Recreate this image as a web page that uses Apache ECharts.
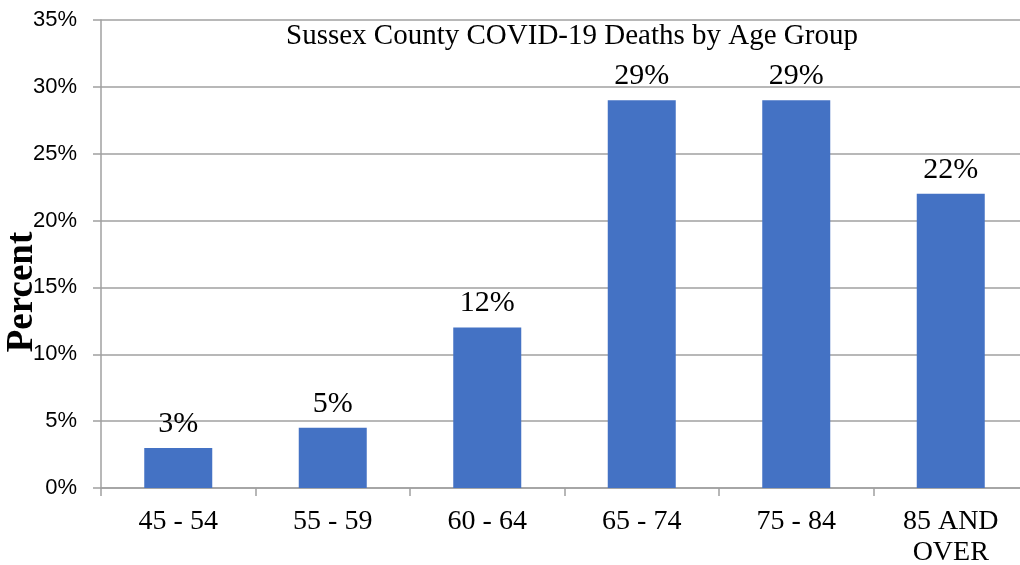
<!DOCTYPE html>
<html>
<head>
<meta charset="utf-8">
<script src="https://cdn.jsdelivr.net/npm/echarts@6/dist/echarts.min.js"></script>
<style>
  html, body { margin: 0; padding: 0; background: #fff; }
  #chart { width: 1020px; height: 565px; }
</style>
</head>
<body>
<div id="chart"></div>
<script>
// age groups and share of deaths (%)
const categories = ['45 - 54', '55 - 59', '60 - 64', '65 - 74', '75 - 84', '85 AND\nOVER']
const deaths = [3, 4.5, 12, 29, 29, 22]
const yTicks = [0, 5, 10, 15, 20, 25, 30, 35]

const chart = echarts.init(document.getElementById('chart'))
const option = {
  animation: false,
  title: {
    text: 'Sussex County COVID-19 Deaths by Age Group',
    left: 567,
    textAlign: 'center',
    top: 17,
    textStyle: {
      fontFamily: 'Liberation Serif',
      fontSize: 29,
      fontWeight: 'normal',
      color: '#000'
    }
  },
  // y axis title, placed by hand (axis name gets pushed off the canvas)
  graphic: [
    {
      type: 'text',
      x: 22,
      y: 292,
      rotation: Math.PI / 2,
      style: {
        text: 'Percent',
        fontFamily: 'Liberation Serif',
        fontSize: 37,
        fontWeight: 'bold',
        fill: '#000',
        align: 'center',
        verticalAlign: 'middle'
      }
    }
  ],
  grid: {
    left: 101,
    right: -8,
    top: 20,
    bottom: 77,
    outerBoundsMode: 'none',
    containLabel: false
  },
  xAxis: {
    type: 'category',
    data: categories,
    axisLine: { lineStyle: { color: '#a0a0a0', width: 1.5 } },
    axisTick: { show: true, length: 8, lineStyle: { color: '#a0a0a0', width: 1.5 } },
    axisLabel: {
      margin: 18,
      fontFamily: 'Liberation Serif',
      fontSize: 28,
      color: '#000',
      lineHeight: 31
    }
  },
  yAxis: {
    type: 'value',
    min: yTicks[0],
    max: yTicks[yTicks.length - 1],
    interval: 5,
    axisLine: { show: true, lineStyle: { color: '#a0a0a0', width: 1.5 } },
    axisTick: { show: true, length: 8, lineStyle: { color: '#a0a0a0', width: 1.5 } },
    splitLine: { show: true, lineStyle: { color: '#a0a0a0', width: 1.5 } },
    axisLabel: {
      margin: 24,
      fontFamily: 'Liberation Sans',
      fontSize: 22,
      color: '#000',
      formatter: '{value}%'
    }
  },
  series: [
    {
      type: 'bar',
      data: deaths,
      barWidth: 68,
      itemStyle: { color: '#4472c4' },
      label: {
        show: true,
        position: 'top',
        distance: 9,
        fontFamily: 'Liberation Serif',
        fontSize: 30,
        color: '#000',
        formatter: function (p) { return Math.round(p.value) + '%' }
      }
    }
  ]
}
chart.setOption(option)
</script>
</body>
</html>
